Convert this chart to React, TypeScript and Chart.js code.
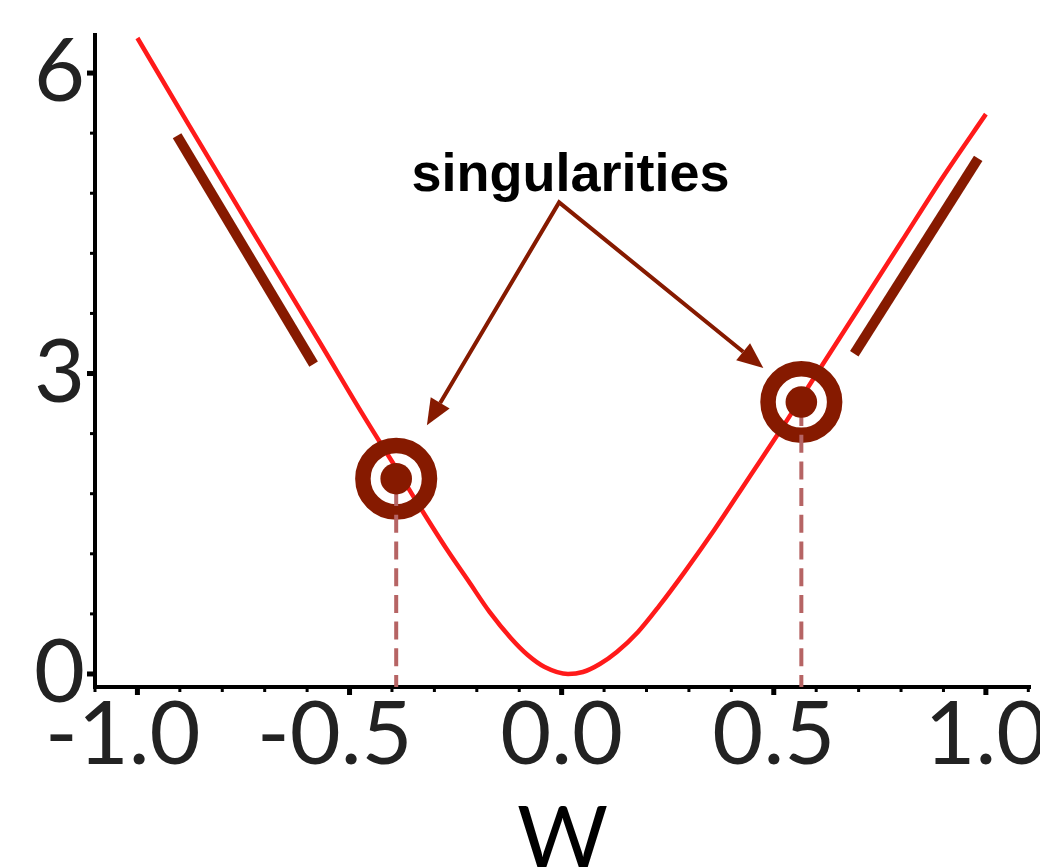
import React, { useEffect, useRef } from 'react';
import { Chart, registerables } from 'chart.js';

Chart.register(...registerables);

// ---- data ----
const curveX = [-1.0, -0.88, -0.73, -0.57, -0.47, -0.385, -0.333, -0.27, -0.22, -0.17, -0.12, -0.08, -0.04, 0.015, 0.05, 0.09, 0.13, 0.18, 0.23, 0.29, 0.36, 0.44, 0.52, 0.6, 0.7, 0.8, 0.9, 1.0];
const curveY = [6.35, 5.49, 4.43, 3.31, 2.6, 2.02, 1.66, 1.24, 0.93, 0.62, 0.36, 0.19, 0.07, 0.0, 0.02, 0.1, 0.22, 0.42, 0.68, 1.02, 1.44, 1.95, 2.46, 2.99, 3.65, 4.31, 4.97, 5.59];

const singX = [-0.39, 0.565];
const singY = [1.95, 2.715];

const asymLeftX = [-0.9065, -0.5847];
const asymLeftY = [5.374, 3.094];
const asymRightX = [0.6898, 0.9819];
const asymRightY = [3.197, 5.148];

const xTickValues = [-1.1, -1.0, -0.9, -0.8, -0.7, -0.6, -0.5, -0.4, -0.3, -0.2, -0.1, 0.0, 0.1, 0.2, 0.3, 0.4, 0.5, 0.6, 0.7, 0.8, 0.9, 1.0, 1.1];
const xMajorTicks = [-1.0, -0.5, 0.0, 0.5, 1.0];
const xTickLabels = ['-1.0', '-0.5', '0.0', '0.5', '1.0'];
const yTickValues = [0, 0.6, 1.2, 1.8, 2.4, 3.0, 3.6, 4.2, 4.8, 5.4, 6.0];
const yMajorTicks = [0, 3, 6];
const yTickLabels = ['0', '3', '6'];

const xAxisTitle = 'W';
const annotationText = 'singularities';
const annotationPos = [0.021, 4.826];
const arrowStart = [-0.006, 4.709];
const arrowTipX = [-0.3176, 0.4754];
const arrowTipY = [2.483, 3.054];

const X_MIN = -1.1;
const X_MAX = 1.104;
const Y_MIN = -0.13;
const Y_MAX = 6.38;

// plot-area layout (pixels)
const PLOT_LEFT = 95;
const PLOT_RIGHT = 1030;
const PLOT_TOP = 35;
const PLOT_BOTTOM = 687;
const CANVAS_W = 1040;
const CANVAS_H = 867;

const RED = '#ff1a1a';
const DARK = '#861a00';
const DASH = '#b66464';

const isIn = (v: number, arr: number[]) => arr.findIndex((m) => Math.abs(m - v) < 1e-6);

const layoutPlugin = {
  id: 'fixedLayout',
  afterLayout(chart: any) {
    const ca = chart.chartArea;
    ca.left = PLOT_LEFT;
    ca.right = PLOT_RIGHT;
    ca.top = PLOT_TOP;
    ca.bottom = PLOT_BOTTOM;
    ca.width = PLOT_RIGHT - PLOT_LEFT;
    ca.height = PLOT_BOTTOM - PLOT_TOP;
    const xs = chart.scales.x;
    xs.left = PLOT_LEFT;
    xs.right = PLOT_RIGHT;
    xs.width = PLOT_RIGHT - PLOT_LEFT;
    xs.top = PLOT_BOTTOM;
    xs.bottom = CANVAS_H;
    xs.height = CANVAS_H - PLOT_BOTTOM;
    xs.configure();
    const ys = chart.scales.y;
    ys.left = 0;
    ys.right = PLOT_LEFT;
    ys.width = PLOT_LEFT;
    ys.top = PLOT_TOP;
    ys.bottom = PLOT_BOTTOM;
    ys.height = PLOT_BOTTOM - PLOT_TOP;
    ys.configure();
  },
};

const overlayPlugin = {
  id: 'overlay',
  afterDatasetsDraw(chart: any) {
    const { ctx, scales } = chart;
    const xs = scales.x;
    const ys = scales.y;
    ctx.save();
    const sx = xs.getPixelForValue(arrowStart[0]);
    const sy = ys.getPixelForValue(arrowStart[1]);
    const headLen = 26;
    const halfW = 11;
    const bases: number[][] = [];
    const tips: number[][] = [];
    for (let i = 0; i < arrowTipX.length; i++) {
      const tx = xs.getPixelForValue(arrowTipX[i]);
      const ty = ys.getPixelForValue(arrowTipY[i]);
      const a = Math.atan2(ty - sy, tx - sx);
      bases.push([tx - headLen * Math.cos(a), ty - headLen * Math.sin(a), a]);
      tips.push([tx, ty]);
    }
    ctx.strokeStyle = DARK;
    ctx.fillStyle = DARK;
    ctx.lineWidth = 4;
    ctx.lineJoin = 'miter';
    ctx.miterLimit = 20;
    ctx.beginPath();
    ctx.moveTo(bases[0][0], bases[0][1]);
    ctx.lineTo(sx, sy);
    ctx.lineTo(bases[1][0], bases[1][1]);
    ctx.stroke();
    for (let i = 0; i < tips.length; i++) {
      const [bx, by, a] = bases[i];
      const px = -Math.sin(a) * halfW;
      const py = Math.cos(a) * halfW;
      ctx.beginPath();
      ctx.moveTo(tips[i][0], tips[i][1]);
      ctx.lineTo(bx + px, by + py);
      ctx.lineTo(bx - px, by - py);
      ctx.closePath();
      ctx.fill();
    }
    ctx.fillStyle = '#000';
    ctx.font = 'bold 54px "Liberation Sans", Arial, sans-serif';
    ctx.textAlign = 'center';
    ctx.textBaseline = 'alphabetic';
    ctx.fillText(annotationText, xs.getPixelForValue(annotationPos[0]), ys.getPixelForValue(annotationPos[1]));
    ctx.restore();
  },
  afterDraw(chart: any) {
    const { ctx, chartArea, scales } = chart;
    const xs = scales.x;
    const ys = scales.y;
    ctx.save();
    ctx.fillStyle = '#000';
    xTickValues.forEach((v) => {
      const major = isIn(v, xMajorTicks) >= 0;
      const len = major ? 6 : 3;
      const w = major ? 5 : 3;
      const px = xs.getPixelForValue(v);
      ctx.fillRect(px - w / 2, chartArea.bottom + 2, w, len);
    });
    yTickValues.forEach((v) => {
      const major = isIn(v, yMajorTicks) >= 0;
      const len = major ? 6 : 3;
      const w = major ? 5 : 3;
      const py = ys.getPixelForValue(v);
      ctx.fillRect(chartArea.left - 2 - len, py - w / 2, len, w);
    });
    ctx.restore();
  },
};

export default function App() {
  const ref = useRef<HTMLCanvasElement | null>(null);

  useEffect(() => {
    document.body.style.margin = '0';
    const canvas = ref.current;
    if (!canvas) return;
    const pts = (xa: number[], ya: number[]) => xa.map((x, i) => ({ x, y: ya[i] }));
    const chart = new Chart(canvas, {
      type: 'scatter',
      data: {
        datasets: [
          {
            data: pts(curveX, curveY),
            showLine: true,
            borderColor: RED,
            borderWidth: 4.5,
            pointRadius: 0,
            cubicInterpolationMode: 'monotone',
            order: 6,
          },
          {
            data: pts(asymLeftX, asymLeftY),
            showLine: true,
            borderColor: DARK,
            borderWidth: 10,
            borderCapStyle: 'butt',
            pointRadius: 0,
            order: 5,
          },
          {
            data: pts(asymRightX, asymRightY),
            showLine: true,
            borderColor: DARK,
            borderWidth: 10,
            borderCapStyle: 'butt',
            pointRadius: 0,
            order: 5,
          },
          {
            data: pts(singX, singY),
            showLine: false,
            pointRadius: 33.3,
            pointBorderWidth: 15.5,
            pointBorderColor: DARK,
            pointBackgroundColor: 'rgba(0,0,0,0)',
            order: 4,
          },
          {
            data: pts([singX[0], singX[0]], [Y_MIN, singY[0]]),
            showLine: true,
            borderColor: DASH,
            borderWidth: 4,
            borderDash: [18, 8.7],
            borderDashOffset: 6,
            pointRadius: 0,
            order: 3,
          },
          {
            data: pts([singX[1], singX[1]], [Y_MIN, singY[1]]),
            showLine: true,
            borderColor: DASH,
            borderWidth: 4,
            borderDash: [18, 8.7],
            borderDashOffset: 6,
            pointRadius: 0,
            order: 3,
          },
          {
            data: pts(singX, singY),
            showLine: false,
            pointRadius: 15.8,
            pointBorderWidth: 0,
            pointBackgroundColor: DARK,
            order: 2,
          },
        ],
      },
      options: {
        responsive: false,
        animation: false,
        events: [],
        layout: { padding: { top: 35, right: 10, left: 0, bottom: 0 } },
        plugins: {
          legend: { display: false },
          tooltip: { enabled: false },
          title: { display: false },
        },
        scales: {
          x: {
            type: 'linear',
            min: X_MIN,
            max: X_MAX,
            afterBuildTicks: (scale: any) => {
              scale.ticks = xTickValues.map((v) => ({ value: v }));
            },
            ticks: {
              autoSkip: false,
              maxRotation: 0,
              minRotation: 0,
              padding: 5,
              color: '#222',
              font: { family: 'Lato', size: 88, lineHeight: 1.0 },
              callback: (value: any) => {
                const idx = isIn(Number(value), xMajorTicks);
                if (idx < 0) return '';
                return xTickLabels[idx] + (Number(value) < 0 ? '\u2004' : '');
              },
            },
            grid: { display: true, drawOnChartArea: false, drawTicks: false },
            border: { display: true, width: 4, color: '#000' },
            title: {
              display: true,
              text: xAxisTitle,
              color: '#000',
              font: { family: 'Lato', size: 88, lineHeight: 0.6 },
              padding: 0,
            },
          },
          y: {
            type: 'linear',
            min: Y_MIN,
            max: Y_MAX,
            afterBuildTicks: (scale: any) => {
              scale.ticks = yTickValues.map((v) => ({ value: v }));
            },
            ticks: {
              autoSkip: false,
              padding: 10,
              color: '#222',
              font: { family: 'Lato', size: 88, lineHeight: 1.0 },
              callback: (value: any) => {
                const idx = isIn(Number(value), yMajorTicks);
                return idx < 0 ? '' : yTickLabels[idx];
              },
            },
            grid: { display: true, drawOnChartArea: false, drawTicks: false },
            border: { display: true, width: 4, color: '#000' },
          },
        },
      },
      plugins: [layoutPlugin, overlayPlugin],
    } as any);
    return () => chart.destroy();
  }, []);

  return (
    <div style={{ position: 'absolute', left: 0, top: 0, width: CANVAS_W, height: CANVAS_H, background: '#fff' }}>
      <canvas ref={ref} width={CANVAS_W} height={CANVAS_H} style={{ display: 'block' }} />
    </div>
  );
}
